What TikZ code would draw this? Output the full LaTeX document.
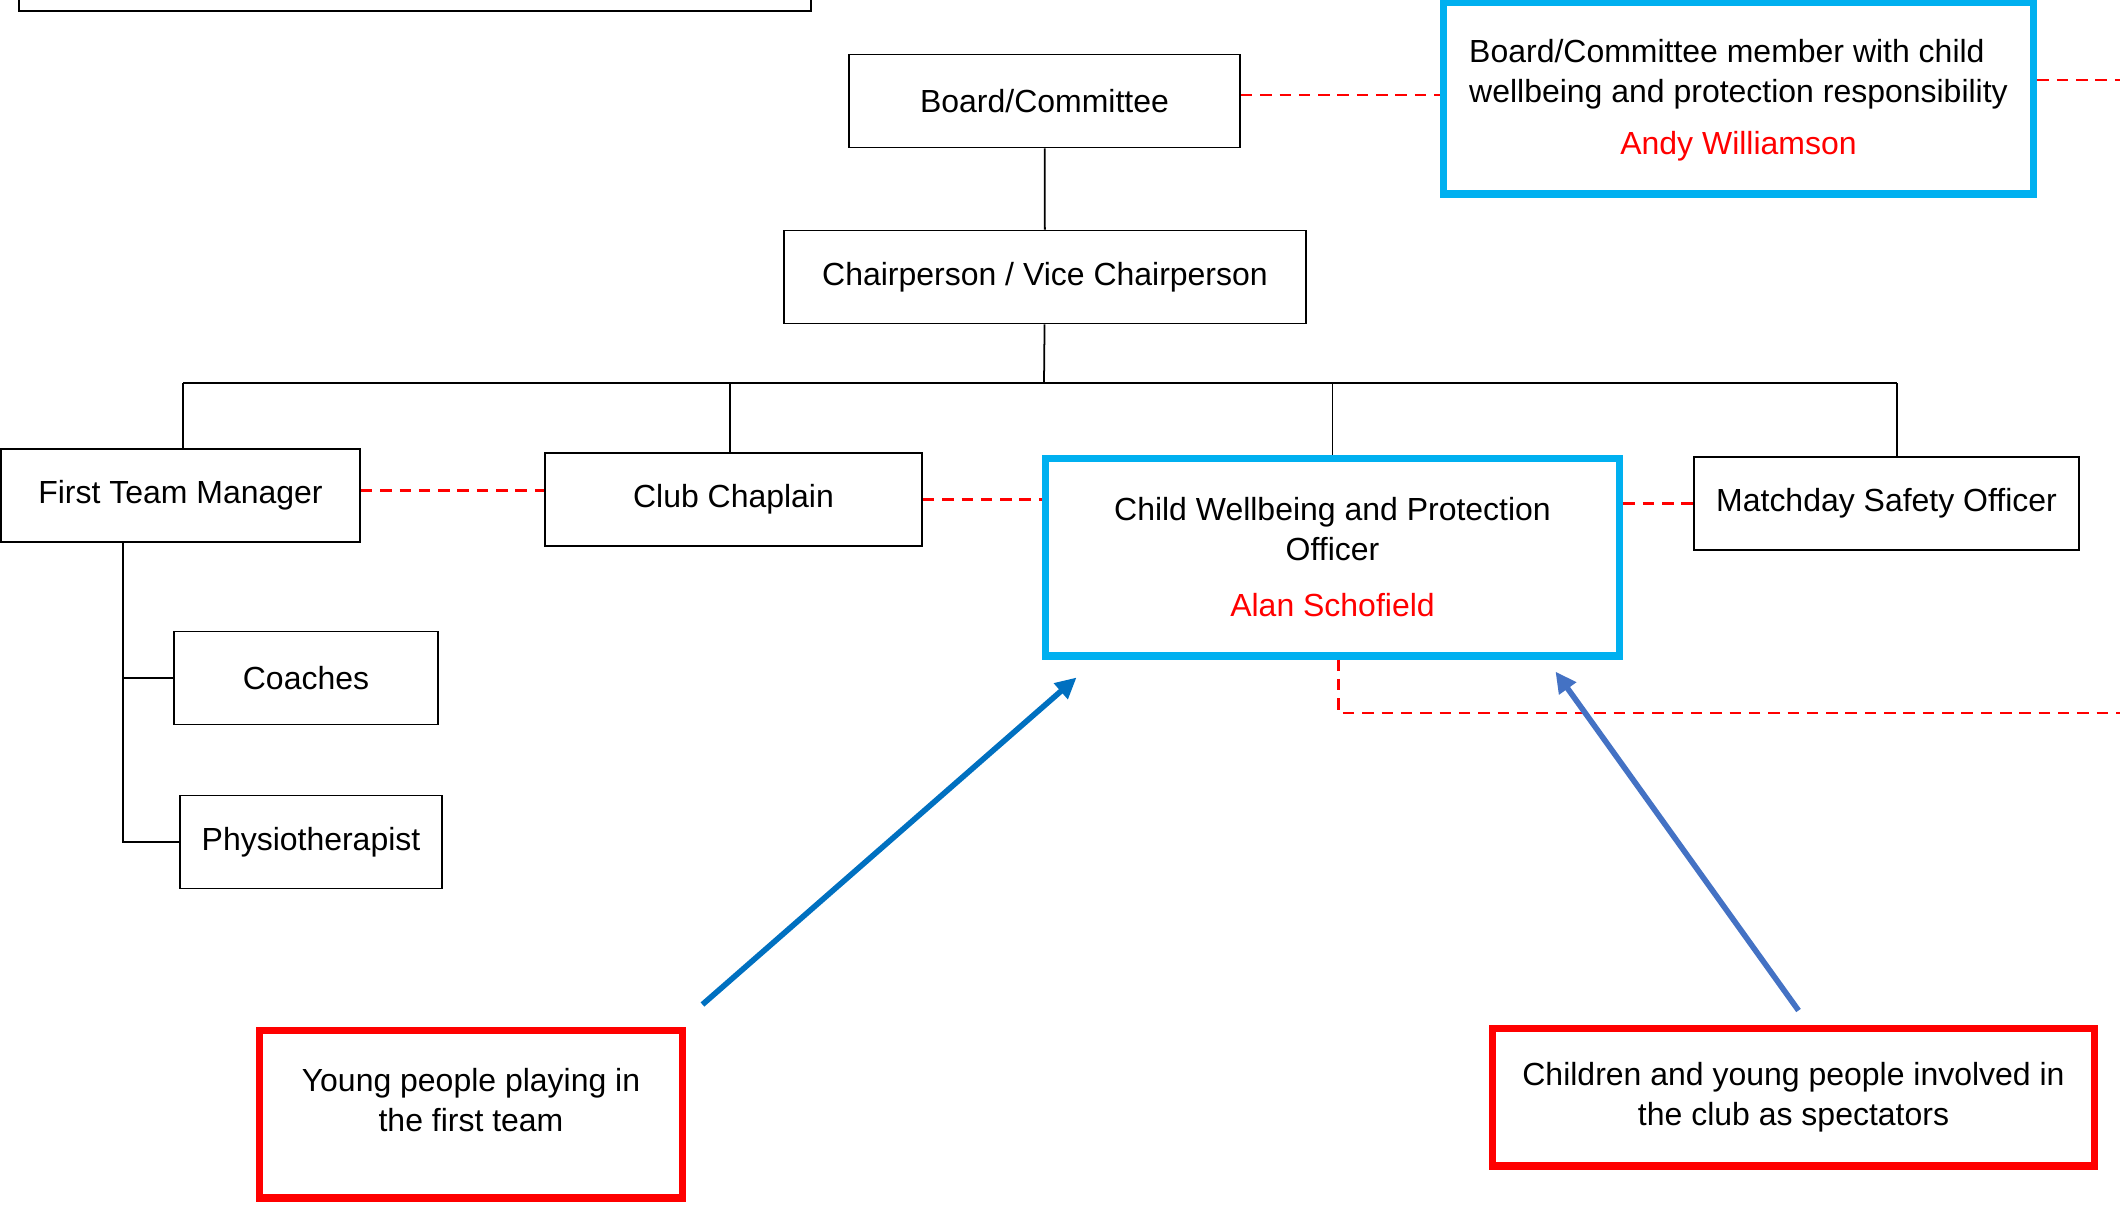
\documentclass[tikz,border=0pt]{standalone}
\usepackage{fontspec}
\setmainfont{Liberation Sans}
\usetikzlibrary{arrows.meta}
\definecolor{boxblue}{RGB}{0,176,240}
\definecolor{arrowblue}{RGB}{0,112,192}
\definecolor{arrowslate}{RGB}{68,114,196}

\begin{document}
\begin{tikzpicture}[x=0.02cm, y=-0.02cm, font=\fontsize{18.2}{22.8}\selectfont,
	box/.style={draw, line width=1pt, minimum height=1.86cm, align=center, inner sep=0pt},
	bluebox/.style={draw=boxblue, line width=4pt, align=center, inner sep=0pt},
	redbox/.style={draw=red, line width=4pt, align=center, inner sep=0pt},
	link/.style={line width=1pt},
	dashlink/.style={red, line width=1.4pt, dash pattern=on 6.5pt off 4.5pt},
	pointer/.style={line width=3.2pt, -{Triangle[length=0.42cm, width=0.4cm]}}]
\useasboundingbox (0,0) rectangle (2120,1204);

\node[box, minimum width=15.84cm, minimum height=2cm] (topbox) at (415,-39) {};
\node[box, minimum width=7.82cm] (board) at (1044.5,101) {Board/Committee};
\node[box, minimum width=10.44cm] (chair) at (1045,277) {Chairperson / Vice Chairperson};
\node[bluebox, minimum width=11.82cm, minimum height=3.84cm] (member) at (1738.5,98)
	{\begin{tabular}{@{}l@{}}Board/Committee member with child\\wellbeing and protection responsibility\end{tabular}\\[0.3cm]\textcolor{red}{Andy Williamson}};

\node[box, minimum width=7.18cm] (ftm) at (180.5,495.5) {First Team Manager};
\node[box, minimum width=7.54cm] (chaplain) at (733.5,499.5) {Club Chaplain};
\node[bluebox, minimum width=11.5cm, minimum height=3.96cm] (cwpo) at (1332.5,557)
	{Child Wellbeing and Protection\\Officer\\[0.32cm]\textcolor{red}{Alan Schofield}};
\node[box, minimum width=7.7cm] (matchday) at (1886.5,503.5) {Matchday Safety Officer};

\node[box, minimum width=5.28cm] (coaches) at (306,678) {Coaches};
\node[box, minimum width=5.24cm] (physio) at (311,842) {Physiotherapist};

\node[redbox, minimum width=8.48cm, minimum height=3.36cm] (young) at (471,1114) {};
\node[align=center] (youngtext) at (471,1100) {Young people playing in\\the first team};
\node[redbox, minimum width=12.06cm, minimum height=2.76cm] (children) at (1793.5,1097)
	{Children and young people involved in\\the club as spectators};

\coordinate (bus) at (1044,383);
\coordinate (ftmleg) at ([xshift=-1.15cm]ftm.south);
\coordinate (edgetop) at (2120,80);
\coordinate (edgelow) at (2120,713);

\draw[link] (board) -- (chair);
\draw[link] (chair) -- (bus);
\draw[link] ([xshift=0.05cm]ftm.north |- bus) -- ([xshift=0.21cm]matchday.north |- bus);
\foreach \n/\dx in {ftm/0.05, chaplain/-0.07, cwpo/0, matchday/0.21} {
	\draw[link] ([xshift=\dx cm]\n.north) -- ([xshift=\dx cm]\n.north |- bus);
	};
\draw[link] (ftmleg) |- (physio.west);
\draw[link] (coaches.west) -- (coaches.west -| ftmleg);

\draw[dashlink] ([yshift=0.12cm]board.east) -- ([yshift=0.12cm]board.east -| member.west);
\draw[dashlink] (member.east |- edgetop) -- (edgetop);
\draw[dashlink] ([yshift=0.1cm]ftm.east) -- ([yshift=0.1cm]ftm.east -| chaplain.west);
\draw[dashlink] (chaplain.east) -- (chaplain.east -| cwpo.west);
\draw[dashlink] (matchday.west -| cwpo.east) -- (matchday.west);
\draw[dashlink] ([xshift=0.12cm]cwpo.south) |- (edgelow);

\draw[pointer, arrowblue] ([shift={(0.32cm,0.44cm)}]young.north east) -- ([shift={(0.7cm,-0.36cm)}]cwpo.south west);
\draw[pointer, arrowslate] ([shift={(0.1cm,0.28cm)}]children.north) -- ([shift={(-1.36cm,-0.24cm)}]cwpo.south east);
\end{tikzpicture}
\end{document}
